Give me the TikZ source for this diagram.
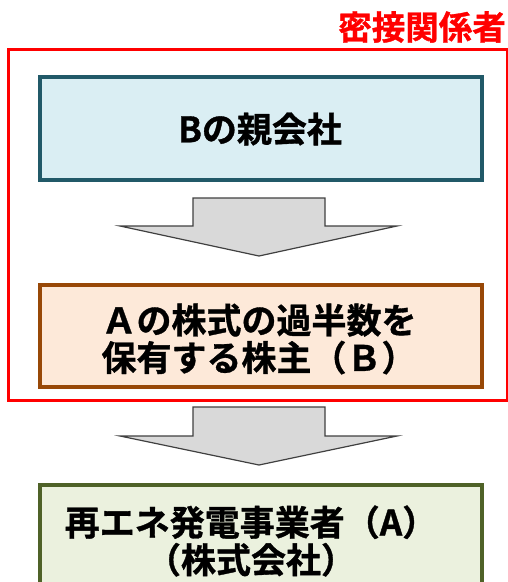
\documentclass[tikz,border=0pt]{standalone}
\usepackage{fontspec}
\newfontfamily\jpfont{Noto Sans CJK JP}[BoldFont={Noto Sans CJK JP Bold},BoldFeatures={FakeBold=1}]
\definecolor{boxAfill}{HTML}{DAEEF3}
\definecolor{boxAdraw}{HTML}{215968}
\definecolor{boxBfill}{HTML}{FDE9D9}
\definecolor{boxBdraw}{HTML}{984807}
\definecolor{boxCfill}{HTML}{EBF1DE}
\definecolor{boxCdraw}{HTML}{4F6228}
\definecolor{arrowfill}{HTML}{D9D9D9}
\begin{document}
\begin{tikzpicture}[x=1pt,y=-1pt,
  lbl/.style={font=\jpfont\bfseries\fontsize{35}{37.5}\selectfont,align=center},
  card/.style={line width=3.5pt,minimum width=442pt,inner sep=0pt,anchor=north west},
  blockarrow/.style={fill=arrowfill,draw=black!75,line width=1.2pt,line join=miter}]
\useasboundingbox (0,0) rectangle (508,582);
% group frame
\draw[red,line width=3pt] (8,49) rectangle (507,400);
\node[text=red,font=\jpfont\bfseries\fontsize{33.5}{36}\selectfont,anchor=east,inner sep=0pt] (title) at (506,27) {密接関係者};
% boxes
\node[card,draw=boxAdraw,fill=boxAfill,minimum height=103pt] (parent) at (38,75) {};
\node[lbl] (parentlbl) at (260,129) {Bの親会社};
\node[card,draw=boxBdraw,fill=boxBfill,minimum height=102pt] (holder) at (38,283) {};
\node[lbl] (holderlbl) at (259,339) {Ａの株式の過半数を\\保有する株主（Ｂ）};
\node[card,draw=boxCdraw,fill=boxCfill,minimum height=130pt] (gen) at (38,483) {};
\node[lbl] (genlbl) at (251,541) {再エネ発電事業者（A）\\（株式会社）};
% block arrows
\draw[blockarrow] (193,198) -- (325,198) -- (325,226) -- (397,226) -- (259,256) -- (120,226) -- (193,226) -- cycle;
\draw[blockarrow] (193,407) -- (325,407) -- (325,436) -- (397,436) -- (259,465) -- (120,436) -- (193,436) -- cycle;
\end{tikzpicture}
\end{document}
